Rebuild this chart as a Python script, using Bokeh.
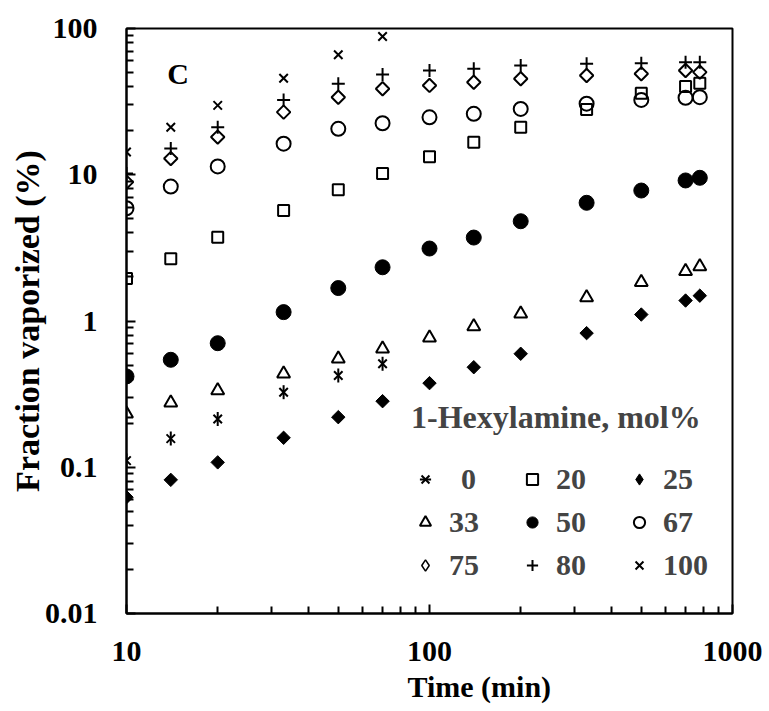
import numpy as np
from bokeh.plotting import figure
from bokeh.models import Range1d, FixedTicker, Legend, LegendItem, Label, Title
from bokeh.embed import file_html
from bokeh.resources import INLINE

# ---------------- data ----------------
time_min = [10, 14, 20, 33, 50, 70, 100, 140, 200, 330, 500, 700, 780]
time_short = [10, 14, 20, 33, 50, 70]

hex_0 = [0.111, 0.157, 0.214, 0.326, 0.424, 0.51]
hex_20 = [1.95, 2.66, 3.74, 5.7, 7.9, 10.2, 13.3, 16.7, 21.1, 27.9, 36.1, 40.1, 42.3]
hex_25 = [0.0624, 0.082, 0.108, 0.159, 0.22, 0.283, 0.376, 0.483, 0.597, 0.826, 1.107, 1.38, 1.49]
hex_33 = [0.232, 0.276, 0.335, 0.435, 0.552, 0.646, 0.767, 0.917, 1.12, 1.45, 1.84, 2.19, 2.36]
hex_50 = [0.418, 0.543, 0.705, 1.15, 1.68, 2.33, 3.13, 3.72, 4.81, 6.43, 7.8, 9.14, 9.53]
hex_67 = [5.9, 8.3, 11.4, 16.3, 20.6, 22.5, 24.7, 26.1, 28.2, 30.6, 32.5, 33.6, 33.9]
hex_75 = [8.9, 12.9, 18.1, 26.8, 33.9, 38.7, 40.8, 42.9, 45.3, 47.7, 49.0, 51.6, 50.3]
hex_80 = [10.2, 15.1, 21.1, 32.5, 41.9, 48.5, 51.6, 53.0, 55.8, 57.4, 57.9, 58.8, 58.8]
hex_100 = [14.3, 21.1, 29.8, 45.7, 66.1, 88.2]

legend_labels = ["\u2009\u2009" + "0", "20", "25", "33", "50", "67", "75", "80", "100"]

x_major_ticks = [10, 100, 1000]
x_major_labels = ["10", "100", "1000"]
y_major_ticks = [0.01, 0.1, 1, 10, 100]
y_major_labels = ["0.01", "0.1", "1", "10", "100"]
minor_mult = [2, 3, 4, 5, 6, 7, 8, 9]
x_minor_ticks = [round(m * d, 6) for d in [10, 100] for m in minor_mult]
y_minor_ticks = [round(m * d, 6) for d in [0.01, 0.1, 1, 10] for m in minor_mult]

FONT = "Liberation Serif"

p = figure(width=769, height=711, x_axis_type="log", y_axis_type="log",
           x_range=Range1d(10, 1000), y_range=Range1d(0.01, 100),
           output_backend="svg", toolbar_location=None,
           min_border_left=126, min_border_right=37, min_border_top=28,
           min_border_bottom=98, background_fill_color="white",
           border_fill_color="white")
p.xgrid.visible = False
p.ygrid.visible = False
p.outline_line_color = "black"
p.outline_line_width = 2
p.outline_line_alpha = 1

p.xaxis.ticker = FixedTicker(ticks=x_major_ticks, minor_ticks=x_minor_ticks)
p.yaxis.ticker = FixedTicker(ticks=y_major_ticks, minor_ticks=y_minor_ticks)
p.xaxis.major_label_overrides = dict(zip(x_major_ticks, x_major_labels))
p.yaxis.major_label_overrides = dict(zip(y_major_ticks, y_major_labels))

for ax in (p.xaxis[0], p.yaxis[0]):
    ax.axis_line_width = 2
    ax.axis_line_color = "black"
    ax.major_tick_in = 9
    ax.major_tick_out = 0
    ax.minor_tick_in = 7
    ax.minor_tick_out = 0
    ax.major_tick_line_width = 2
    ax.minor_tick_line_width = 2
    ax.major_tick_line_color = "black"
    ax.minor_tick_line_color = "black"
    ax.major_label_text_font = FONT
    ax.major_label_text_font_style = "bold"
    ax.major_label_text_font_size = "30px"
    ax.major_label_text_color = "black"
    ax.axis_label_text_font = FONT
    ax.axis_label_text_font_style = "bold"
    ax.axis_label_text_color = "black"

p.xaxis.major_label_standoff = 28

p.yaxis.axis_label = "Fraction vaporized (%)"
p.yaxis.axis_label_text_font_size = "34px"
p.yaxis.major_label_standoff = 29
p.yaxis.axis_label_standoff = -4

# x-axis title, set right of centre as in the original
p.add_layout(Title(text="Time (min)", align="left", offset=281, standoff=8,
                   text_font=FONT, text_font_style="bold", text_font_size="30px",
                   text_color="black"), "below")

LW = 2
r0a = p.scatter(time_short, hex_0, marker="x", size=12, line_color="black", line_width=LW)
r0b = p.scatter(time_short, hex_0, marker="dash", angle=np.pi / 2, size=14,
                line_color="black", line_width=LW)
r20 = p.scatter(time_min, hex_20, marker="square", size=11, line_color="black",
                line_width=LW, fill_color=None)
r25 = p.scatter(time_min, hex_25, marker="square", angle=np.pi / 4, size=9.5,
                line_color="black", line_width=1, fill_color="black")
r33 = p.scatter(time_min, hex_33, marker="triangle", size=13, line_color="black",
                line_width=LW, fill_color=None)
r50 = p.scatter(time_min, hex_50, marker="circle", size=15, line_color="black",
                line_width=1, fill_color="black")
r67 = p.scatter(time_min, hex_67, marker="circle", size=14, line_color="black",
                line_width=LW, fill_color=None)
r75 = p.scatter(time_min, hex_75, marker="square", angle=np.pi / 4, size=9.5,
                line_color="black", line_width=LW, fill_color=None)
r80 = p.scatter(time_min, hex_80, marker="cross", size=13, line_color="black",
                line_width=LW)
r100 = p.scatter(time_short, hex_100, marker="x", size=12, line_color="black",
                 line_width=LW)

# hidden legend keys for the diamond series (legend glyphs ignore marker rotation)
k25 = p.scatter(time_min, hex_25, marker="diamond", size=12, line_color="black",
                line_width=1, fill_color="black", visible=False)
k75 = p.scatter(time_min, hex_75, marker="diamond", size=12, line_color="black",
                line_width=1.5, fill_color=None, visible=False)

renderer_groups = [[r0a, r0b], [r20], [k25], [r33], [r50], [r67], [k75], [r80], [r100]]
items = [LegendItem(label=lab, renderers=rs) for lab, rs in zip(legend_labels, renderer_groups)]

legend = Legend(items=items, ncols=3, orientation="horizontal", location=(285, 31),
                title="1-Hexylamine, mol%", title_text_font=FONT,
                title_text_font_style="bold", title_text_font_size="32px",
                title_standoff=26,
                label_text_font=FONT, label_text_font_style="bold",
                label_text_font_size="30px",
                glyph_width=28, glyph_height=28, label_standoff=10,
                label_width=60, label_height=34, spacing=9,
                padding=0, margin=0, border_line_color=None,
                background_fill_alpha=0, inactive_fill_alpha=0)
p.add_layout(legend)

p.add_layout(Label(x=14.8, y=49.2, text="C", text_align="center", text_baseline="middle",
                   text_font=FONT, text_font_style="bold", text_font_size="30px",
                   text_color="black"))

open("out.html", "w").write(file_html(p, INLINE))
